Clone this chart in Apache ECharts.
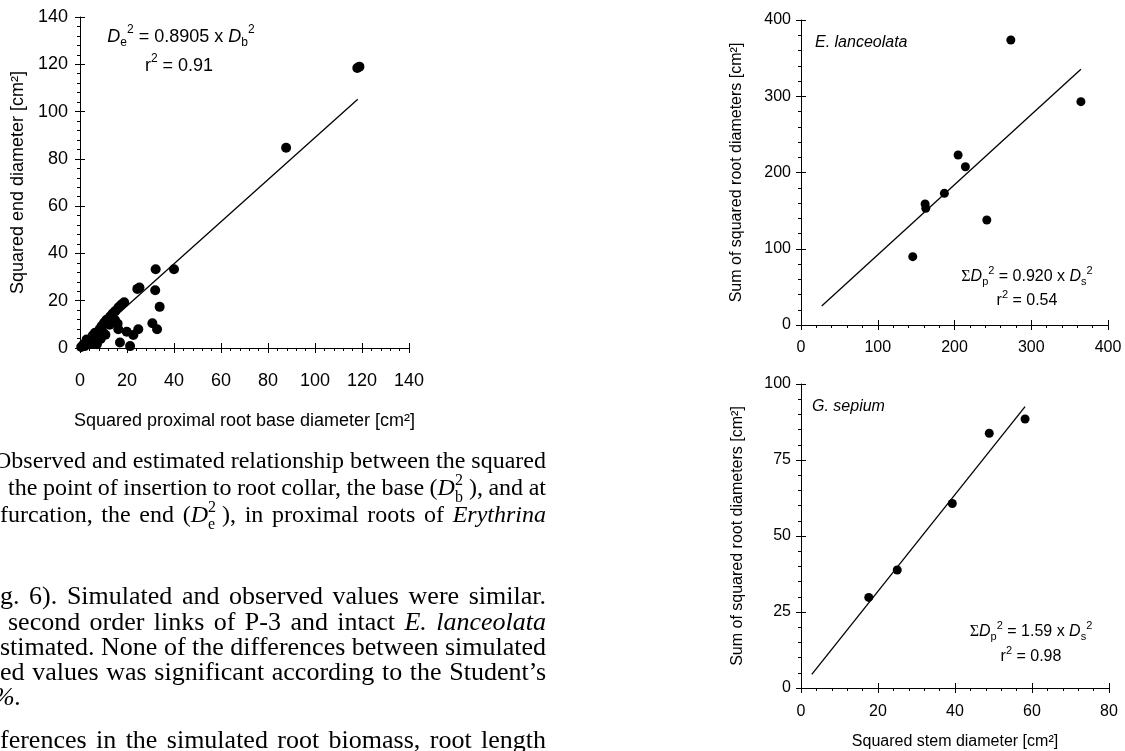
<!DOCTYPE html>
<html><head><meta charset="utf-8">
<script src="https://cdn.jsdelivr.net/npm/echarts@6/dist/echarts.min.js"></script>
<style>html,body{margin:0;padding:0;background:#fff}#c{width:1125px;height:751px}</style>
</head><body><div id="c"></div>
<script>
// ---------- DATA ----------
// Left: Erythrina proximal roots, squared base diameter vs squared end diameter
const erBaseX = [118.0, 118.9, 87.7, 40.0, 32.2, 24.4, 25.3, 32.0, 33.9, 30.8, 32.8, 18.8, 17.6, 16.4, 15.0, 13.9, 12.8, 11.3, 10.3, 14.9, 16.0, 16.3, 19.9, 22.7, 24.8, 17.0, 21.3, 9.2, 8.4, 6.4, 9.9, 7.8, 10.8, 5.4, 2.8, 1.4, 4.2, 0.5, 5.6, 3.0, 6.8, 12.6, 2.0, 7.2, 4.0, 8.8];
const erEndY  = [118.4, 119.0, 84.7, 33.3, 33.3, 25.0, 25.6, 24.4, 17.4, 10.5, 7.9, 19.3, 18.4, 17.2, 15.6, 14.6, 13.3, 11.9, 10.8, 11.8, 10.3, 7.9, 6.9, 5.5, 7.9, 2.3, 0.8, 9.3, 8.0, 6.4, 6.4, 4.3, 5.6, 5.3, 3.6, 1.4, 1.8, 0.4, 2.1, 2.0, 3.0, 9.8, 0.8, 1.6, 3.4, 3.8];
const erFitSlope = 0.8905;
const erFitRange = [0, 118.2];
const erTicks = [0, 20, 40, 60, 80, 100, 120, 140];

// Right top: E. lanceolata
const elStemX = [273.4, 364.7, 204.7, 214.2, 186.8, 161.7, 162.6, 242.1, 145.6];
const elRootY = [373.8, 292.9, 223.0, 207.6, 172.7, 158.7, 153.0, 137.7, 89.6];
const elFitSlope = 0.920;
const elFitRange = [27, 364.7];
const elTicks = [0, 100, 200, 300, 400];

// Right bottom: G. sepium
const gsStemX = [17.6, 25.0, 39.3, 48.9, 58.2];
const gsRootY = [29.8, 38.8, 60.7, 83.8, 88.5];
const gsFitSlope = 1.59;
const gsFitRange = [2.8, 58.2];
const gsXTicks = [0, 20, 40, 60, 80];
const gsYTicks = [0, 25, 50, 75, 100];

// ---------- HELPERS ----------
const SANS = '"Liberation Sans", Arial, Helvetica, sans-serif';
const SERIF = '"Liberation Serif", "Times New Roman", serif';
const zip = (a, b) => a.map((v, i) => [v, b[i]]);
const fit = (slope, r) => r.map(x => [x, slope * x]);

function axisPair(gridIndex, dim, ticks, o) {
  const fs = o.fontSize || 16;
  const base = {
    type: 'value', gridIndex, min: ticks[0], max: ticks[ticks.length - 1],
    interval: ticks[1] - ticks[0], position: dim === 'x' ? 'bottom' : 'left',
    splitLine: { show: false }
  };
  const main = Object.assign({}, base, {
    axisLine: { show: true, onZero: false, lineStyle: { color: '#000', width: 1 } },
    axisTick: { show: true, inside: false, length: 5, lineStyle: { color: '#000', width: 1 } },
    minorTick: { show: true, splitNumber: 5, length: 3, lineStyle: { color: '#000', width: 1 } },
    axisLabel: { margin: o.margin, color: '#000', fontSize: fs, fontFamily: SANS },
    name: o.name || '', nameLocation: 'middle', nameGap: o.nameGap || 0,
    nameTextStyle: { color: '#000', fontSize: fs, fontFamily: SANS }
  });
  const dup = Object.assign({}, base, {
    axisLine: { show: false, onZero: false },
    axisTick: { show: true, inside: true, length: 5, lineStyle: { color: '#000', width: 1 } },
    minorTick: { show: false },
    axisLabel: { show: false }
  });
  return [main, dup];
}

// text layout via measured words
const mctx = document.createElement('canvas').getContext('2d');
function segFont(k, spec) {
  const small = (k === 'sup' || k === 'sub' || k === 'stack');
  const size = small ? spec.small : spec.size;
  const fam = (k === 'sym') ? SERIF : spec.family;
  return (k === 'i' ? 'italic ' : '') + size + 'px ' + fam;
}
function segW(g, spec) {
  mctx.font = segFont(g[0], spec);
  if (g[0] === 'stack') return Math.max(mctx.measureText(g[1]).width, mctx.measureText(g[2]).width);
  return mctx.measureText(g[1]).width;
}
function wordW(w, spec) { return w.reduce((s, g) => s + segW(g, spec), 0); }
function txt(s, x, y, font) {
  return { type: 'text', x, y, silent: true,
    style: { text: s, font, fill: '#000', align: 'left', verticalAlign: 'middle', textAlign: 'left', textVerticalAlign: 'middle' } };
}
function wordEls(w, x, yc, spec, out) {
  for (const g of w) {
    const f = segFont(g[0], spec);
    if (g[0] === 'stack') {
      out.push(txt(g[1], x, yc + spec.supDy, f));
      out.push(txt(g[2], x, yc + spec.subDy, f));
    } else {
      const dy = g[0] === 'sup' ? spec.supDy : (g[0] === 'sub' ? spec.subDy : 0);
      out.push(txt(g[1], x, yc + dy, f));
    }
    x += segW(g, spec);
  }
}
function norm(words) {
  const r = [];
  for (const w of words) {
    if (typeof w === 'string') w.split(' ').forEach(p => { if (p) r.push([['n', p]]); });
    else r.push(w);
  }
  return r;
}
function layoutLine(words, x0, x1, yc, spec, justify, out) {
  const ws = norm(words);
  const widths = ws.map(w => wordW(w, spec));
  const total = widths.reduce((a, b) => a + b, 0);
  mctx.font = spec.size + 'px ' + spec.family;
  const sp = (justify && ws.length > 1) ? (x1 - x0 - total) / (ws.length - 1) : mctx.measureText(' ').width;
  let x = x0;
  ws.forEach((w, i) => { wordEls(w, x, yc, spec, out); x += widths[i] + sp; });
}
function centerWord(w, cx, yc, spec, out) {
  const W = wordW(w, spec);
  wordEls(w, cx - W / 2, yc, spec, out);
}

const capSpec = { size: 24, small: 16, family: SERIF, supDy: -8, subDy: 9 };
const bodySpec = { size: 26, small: 17, family: SERIF, supDy: -8, subDy: 9 };
const eqSpecL = { size: 18, small: 12, family: SANS, supDy: -7, subDy: 6 };
const eqSpec = { size: 16, small: 11, family: SANS, supDy: -6, subDy: 5 };

const G = [];
// Caption
layoutLine(['Observed and estimated relationship between the squared'], -6, 546, 462, capSpec, true, G);
layoutLine(['the point of insertion to root collar, the base', [['n', '('], ['i', 'D'], ['stack', '2', 'b'], ['n', ' ),']], 'and at'], 8, 546, 489, capSpec, true, G);
layoutLine(['furcation, the end', [['n', '('], ['i', 'D'], ['stack', '2', 'e'], ['n', ' ),']], 'in proximal roots of', [['i', 'Erythrina']]], 0, 546, 516, capSpec, true, G);
// Body
layoutLine(['g. 6). Simulated and observed values were similar.'], 0, 546, 597, bodySpec, true, G);
layoutLine(['second order links of P-3 and intact', [['i', 'E.']], [['i', 'lanceolata']]], 8, 546, 623, bodySpec, true, G);
layoutLine(['stimated. None of the differences between simulated'], 0, 546, 648, bodySpec, true, G);
layoutLine(['ed values was significant according to the Student\u2019s'], 0, 546, 673, bodySpec, true, G);
layoutLine([[['i', '%.']]], -7, 546, 698, bodySpec, false, G);
layoutLine(['ferences in the simulated root biomass, root length'], 0, 546, 741, bodySpec, true, G);

// Equations & labels in charts
centerWord([['i', 'D'], ['sub', 'e'], ['sup', '2'], ['n', ' = 0.8905 x '], ['i', 'D'], ['sub', 'b'], ['sup', '2']], 181, 37, eqSpecL, G);
centerWord([['n', 'r'], ['sup', '2'], ['n', ' = 0.91']], 179, 66, eqSpecL, G);
layoutLine([[['i', 'E. lanceolata']]], 815, 0, 43, eqSpec, false, G);
centerWord([['sym', '\u03A3'], ['i', 'D'], ['sub', 'p'], ['sup', '2'], ['n', ' = 0.920 x '], ['i', 'D'], ['sub', 's'], ['sup', '2']], 1027, 277, eqSpec, G);
centerWord([['n', 'r'], ['sup', '2'], ['n', ' = 0.54']], 1027, 301, eqSpec, G);
layoutLine([[['i', 'G. sepium']]], 812, 0, 407, eqSpec, false, G);
centerWord([['sym', '\u03A3'], ['i', 'D'], ['sub', 'p'], ['sup', '2'], ['n', ' = 1.59 x '], ['i', 'D'], ['sub', 's'], ['sup', '2']], 1031, 632, eqSpec, G);
centerWord([['n', 'r'], ['sup', '2'], ['n', ' = 0.98']], 1031, 657, eqSpec, G);

// ---------- CHART ----------
const xA = [].concat(
  axisPair(0, 'x', erTicks, { margin: 24, fontSize: 18, name: 'Squared proximal root base diameter [cm\u00B2]', nameGap: 64 }),
  axisPair(1, 'x', elTicks, { margin: 15 }),
  axisPair(2, 'x', gsXTicks, { margin: 16, name: 'Squared stem diameter [cm\u00B2]', nameGap: 46 })
);
const yA = [].concat(
  axisPair(0, 'y', erTicks, { margin: 12, fontSize: 18, name: 'Squared end diameter [cm\u00B2]', nameGap: 53 }),
  axisPair(1, 'y', elTicks, { margin: 10, name: 'Sum of squared root diameters [cm\u00B2]', nameGap: 56 }),
  axisPair(2, 'y', gsYTicks, { margin: 10, name: 'Sum of squared root diameters [cm\u00B2]', nameGap: 55 })
);

function scatter(xi, data, size) {
  return { type: 'scatter', xAxisIndex: xi, yAxisIndex: xi, data, symbol: 'circle', symbolSize: size,
    itemStyle: { color: '#000', opacity: 1 }, clip: false, silent: true, z: 3 };
}
function fitLine(xi, data) {
  return { type: 'line', xAxisIndex: xi, yAxisIndex: xi, data, symbol: 'none', showSymbol: false,
    lineStyle: { color: '#000', width: 1.3 }, silent: true, z: 2 };
}

const chart = echarts.init(document.getElementById('c'), null, { renderer: 'canvas' });
chart.setOption({
  animation: false,
  backgroundColor: '#fff',
  grid: [
    { left: 80, top: 17, width: 329, height: 331 },
    { left: 801, top: 20, width: 307, height: 305 },
    { left: 801, top: 384, width: 308, height: 304 }
  ],
  xAxis: xA,
  yAxis: yA,
  series: [
    fitLine(0, fit(erFitSlope, erFitRange)),
    scatter(0, zip(erBaseX, erEndY), 10),
    fitLine(2, fit(elFitSlope, elFitRange)),
    scatter(2, zip(elStemX, elRootY), 9),
    fitLine(4, fit(gsFitSlope, gsFitRange)),
    scatter(4, zip(gsStemX, gsRootY), 9)
  ],
  graphic: { elements: G }
});
</script></body></html>
